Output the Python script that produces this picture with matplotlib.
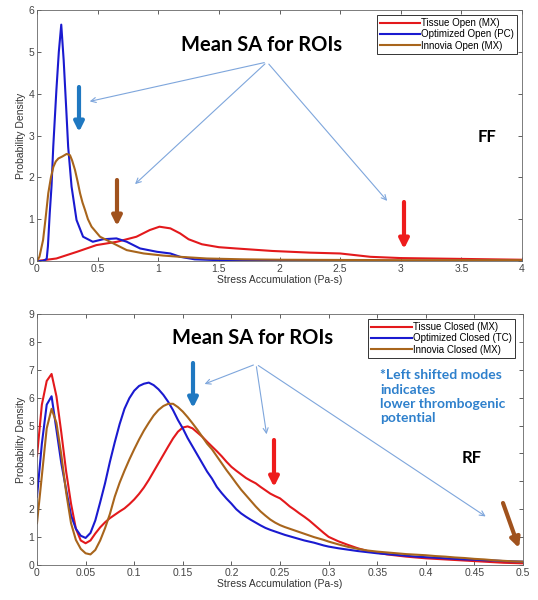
import numpy as np
import matplotlib
matplotlib.use("Agg")
import matplotlib.pyplot as plt
from matplotlib.patches import FancyArrowPatch

plt.rcParams.update({"font.family": ["Liberation Sans", "DejaVu Sans"], "font.size": 7.5,
                     "axes.linewidth": 0.6, "xtick.direction": "in", "ytick.direction": "in",
                     "xtick.top": True, "ytick.right": True})

RED, BLUE, BROWN = "#e3191c", "#1a1ad0", "#a8651c"
TICKC = "#444444"

# ---------------- FF (open) data ----------------
ff_blue_x = [0, 0.05, 0.08, 0.09, 0.105, 0.12, 0.134, 0.16, 0.18, 0.2, 0.22, 0.243, 0.257, 0.285,
             0.326, 0.38, 0.46, 0.545, 0.655, 0.74, 0.85, 0.99, 1.1, 1.18, 1.3, 1.5, 2.0, 3.0, 4.0]
ff_blue_y = [0, 0.0, 0.05, 0.35, 1.14, 1.8, 2.73, 4.09, 5.0, 5.65, 4.8, 3.53, 2.73, 1.78,
             0.98, 0.58, 0.46, 0.52, 0.54, 0.46, 0.3, 0.22, 0.18, 0.1, 0.04, 0.02, 0.01, 0.0, 0.0]
ff_brown_x = [0, 0.02, 0.05, 0.07, 0.093, 0.115, 0.135, 0.155, 0.176, 0.21, 0.245, 0.272, 0.29,
              0.313, 0.335, 0.355, 0.375, 0.396, 0.42, 0.45, 0.52, 0.63, 0.74, 0.88, 1.04, 1.18,
              1.4, 1.7, 2.0, 3.0, 4.0]
ff_brown_y = [0, 0.1, 0.5, 1.0, 1.62, 2.0, 2.25, 2.38, 2.45, 2.5, 2.56, 2.53, 2.4,
              2.18, 1.9, 1.62, 1.4, 1.22, 1.0, 0.82, 0.58, 0.42, 0.26, 0.18, 0.13, 0.1,
              0.06, 0.04, 0.03, 0.02, 0.02]
ff_red_x = [0, 0.16, 0.33, 0.49, 0.66, 0.82, 0.93, 1.01, 1.1, 1.18, 1.25, 1.36, 1.5, 1.64,
            1.94, 2.25, 2.5, 2.75, 3.0, 3.5, 4.0]
ff_red_y = [0, 0.06, 0.22, 0.38, 0.46, 0.58, 0.74, 0.82, 0.78, 0.66, 0.52, 0.4, 0.33, 0.3,
            0.24, 0.2, 0.18, 0.1, 0.07, 0.05, 0.03]

# ---------------- RF (closed) data ----------------
rf_x = [0, 0.005, 0.01, 0.015, 0.02, 0.025, 0.03, 0.035, 0.04, 0.045, 0.05, 0.055, 0.06, 0.065,
        0.07, 0.075, 0.08, 0.085, 0.09, 0.095, 0.1, 0.105, 0.11, 0.115, 0.12, 0.125, 0.13,
        0.135, 0.14, 0.145, 0.15, 0.155, 0.16, 0.165, 0.17, 0.175, 0.18, 0.185, 0.19, 0.195,
        0.2, 0.205, 0.21, 0.215, 0.22, 0.225, 0.23, 0.235, 0.24, 0.245, 0.25, 0.255, 0.26,
        0.265, 0.27, 0.275, 0.28, 0.285, 0.29, 0.295, 0.3, 0.31, 0.32, 0.33, 0.34, 0.35, 0.36,
        0.37, 0.38, 0.39, 0.4, 0.41, 0.42, 0.43, 0.44, 0.45, 0.46, 0.47, 0.48, 0.49, 0.5]
rf_red = [3.9, 5.75, 6.6, 6.85, 6.05, 4.75, 3.35, 2.2, 1.3, 0.88, 0.78, 0.88, 1.13, 1.35,
          1.53, 1.68, 1.8, 1.92, 2.03, 2.18, 2.35, 2.55, 2.78, 3.05, 3.35, 3.65, 3.95,
          4.25, 4.54, 4.78, 4.93, 4.97, 4.9, 4.75, 4.6, 4.42, 4.25, 4.08, 3.9, 3.7,
          3.52, 3.38, 3.25, 3.12, 3.02, 2.93, 2.8, 2.68, 2.56, 2.47, 2.39, 2.25, 2.1,
          1.98, 1.85, 1.73, 1.6, 1.45, 1.3, 1.15, 1.01, 0.85, 0.72, 0.6, 0.5, 0.44, 0.38,
          0.34, 0.3, 0.27, 0.24, 0.22, 0.2, 0.18, 0.16, 0.14, 0.12, 0.1, 0.08, 0.07, 0.06]
rf_blue = [2.45, 4.35, 5.75, 6.05, 4.85, 3.65, 2.7, 1.78, 1.3, 1.05, 0.97, 1.15, 1.6, 2.25,
           2.93, 3.7, 4.4, 5.05, 5.6, 5.98, 6.25, 6.42, 6.5, 6.54, 6.45, 6.3, 6.1,
           5.85, 5.55, 5.2, 4.9, 4.55, 4.25, 3.95, 3.65, 3.35, 3.1, 2.8, 2.58, 2.38,
           2.2, 2.0, 1.85, 1.73, 1.62, 1.52, 1.42, 1.33, 1.26, 1.2, 1.14, 1.08, 1.03,
           0.98, 0.93, 0.88, 0.84, 0.8, 0.75, 0.7, 0.66, 0.6, 0.55, 0.5, 0.46, 0.42, 0.39,
           0.36, 0.33, 0.3, 0.28, 0.26, 0.24, 0.22, 0.2, 0.19, 0.17, 0.16, 0.14, 0.13, 0.12]
rf_brown = [1.5, 3.2, 4.9, 5.6, 5.1, 3.95, 2.6, 1.5, 0.9, 0.58, 0.42, 0.38, 0.54, 0.88,
            1.32, 1.83, 2.45, 2.95, 3.38, 3.78, 4.15, 4.5, 4.82, 5.1, 5.36, 5.56, 5.7,
            5.78, 5.78, 5.66, 5.5, 5.3, 5.08, 4.85, 4.6, 4.35, 4.15, 3.9, 3.65, 3.4,
            3.17, 2.93, 2.7, 2.5, 2.3, 2.1, 1.92, 1.77, 1.63, 1.52, 1.43, 1.36, 1.3,
            1.24, 1.18, 1.12, 1.06, 1.0, 0.95, 0.9, 0.84, 0.74, 0.65, 0.58, 0.52, 0.48, 0.45,
            0.42, 0.39, 0.37, 0.35, 0.32, 0.3, 0.27, 0.25, 0.22, 0.2, 0.17, 0.15, 0.13, 0.12]

ff_labels = ["Tissue Open (MX)", "Optimized Open (PC)", "Innovia Open (MX)"]
rf_labels = ["Tissue Closed (MX)", "Optimized Closed (TC)", "Innovia Closed (MX)"]
W, H = 538, 600

fig = plt.figure(figsize=(W / 100, H / 100), dpi=100)


def px_axes(l, t, r, b):
    return fig.add_axes([l / W, 1 - b / H, (r - l) / W, (b - t) / H])


def style(ax, xlim, ylim, xt, yt):
    ax.set_xlim(*xlim); ax.set_ylim(*ylim)
    ax.set_xticks(xt); ax.set_yticks(yt)
    ax.set_xticklabels([f"{v:g}" for v in xt]); ax.set_yticklabels([f"{v:g}" for v in yt])
    ax.tick_params(length=3, width=0.6, colors=TICKC, labelsize=7.5, pad=2)
    for s in ax.spines.values():
        s.set_color("#666666")
    ax.set_xlabel("Stress Accumulation (Pa-s)", fontsize=7.5, color="#333333", labelpad=1)
    ax.set_ylabel("Probability Density", fontsize=7.5, color="#333333", labelpad=2)


def legend(ax, anchor):
    lg = ax.legend(loc="upper right", bbox_to_anchor=anchor, borderaxespad=0, fancybox=False,
                   edgecolor="#333333", framealpha=1, fontsize=7, handlelength=4.2,
                   handletextpad=0.1, labelspacing=0.15, borderpad=0.3)
    lg.get_frame().set_linewidth(0.7)


# top panel
ax1 = px_axes(37, 10, 522, 261)
ax1.plot(ff_red_x, ff_red_y, color=RED, lw=1.5, label=ff_labels[0])
ax1.plot(ff_blue_x, ff_blue_y, color=BLUE, lw=1.5, label=ff_labels[1])
ax1.plot(ff_brown_x, ff_brown_y, color=BROWN, lw=1.5, label=ff_labels[2])
style(ax1, (0, 4), (0, 6), np.arange(0, 4.01, 0.5), range(0, 7))
legend(ax1, (0.99, 0.98))

# bottom panel
ax2 = px_axes(37, 314, 523, 565)
ax2.plot(rf_x, rf_red, color=RED, lw=1.5, label=rf_labels[0])
ax2.plot(rf_x, rf_blue, color=BLUE, lw=1.5, label=rf_labels[1])
ax2.plot(rf_x, rf_brown, color=BROWN, lw=1.5, label=rf_labels[2])
style(ax2, (0, 0.5), (0, 9), np.round(np.arange(0, 0.501, 0.05), 2), range(0, 10))
legend(ax2, (0.983, 0.98))

# overlay for annotations in pixel coords
ov = fig.add_axes([0, 0, 1, 1], facecolor="none")
ov.set_xlim(0, W); ov.set_ylim(H, 0); ov.axis("off")

LIGHT = "#7ea6dc"
ARR_BLUE = "#1f78c1"


def thin(o, h):
    ov.add_patch(FancyArrowPatch(o, h, arrowstyle="->", mutation_scale=9, lw=0.8, color=LIGHT))


def thick(s, e, c):
    ov.add_patch(FancyArrowPatch(s, e, arrowstyle="-|>", mutation_scale=14, lw=3, color=c,
                                 shrinkA=0, shrinkB=0))


bold = dict(family=["Lato", "DejaVu Sans"], fontweight="bold")
ov.text(262, 45, "Mean SA for ROIs", ha="center", va="center", fontsize=14.5, **bold)
for h in [(87, 102), (133, 186), (389, 203)]:
    thin((267, 62), h)
thick((79, 87), (79, 132), ARR_BLUE)
thick((117, 180), (117, 226), "#a0521d")
thick((404, 202), (404, 249), "#ee1c1c")
ov.text(487, 137, "FF", ha="center", va="center", fontsize=12, **bold)

ov.text(253, 338, "Mean SA for ROIs", ha="center", va="center", fontsize=14.5, **bold)
for h in [(202, 385), (267, 437), (488, 518)]:
    thin((256, 364), h)
thick((193, 363), (193, 408), ARR_BLUE)
thick((274, 440), (274, 487), "#ee1c1c")
thick((503, 503), (519, 548), "#a0521d")
ov.text(472, 458, "RF", ha="center", va="center", fontsize=12, **bold)
ov.text(380, 369, "*Left shifted modes\nindicates\nlower thrombogenic\npotential", ha="left",
        va="top", fontsize=10, color="#2e80cc", linespacing=1.25, **bold)

fig.savefig("out.png", dpi=100)
